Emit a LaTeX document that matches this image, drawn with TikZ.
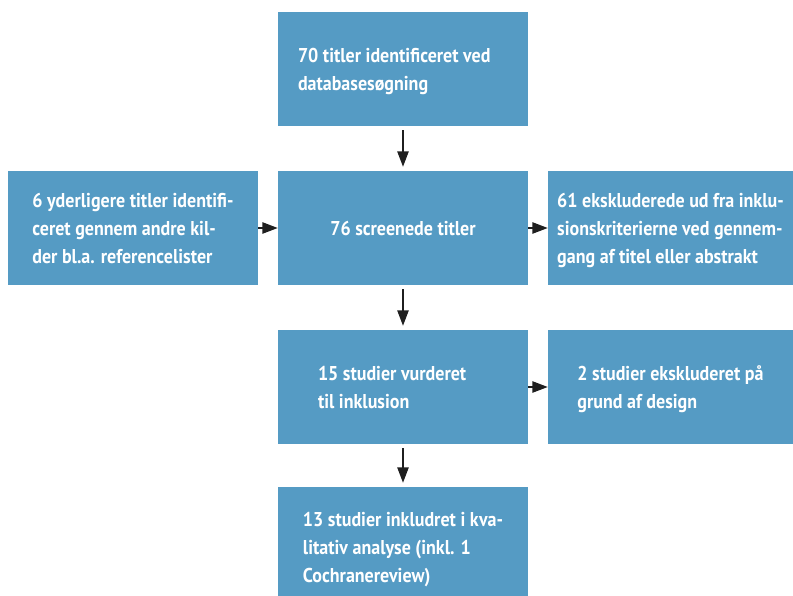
\documentclass[tikz,border=0pt]{standalone}
\usepackage{fontspec}
\setmainfont{PT Sans}[FakeStretch=0.9]
\usetikzlibrary{arrows.meta}
\definecolor{boxblue}{RGB}{85,155,196}
\tikzset{
  box/.style={fill=boxblue, text=white, align=flush left, inner sep=0pt,
    font=\bfseries\fontsize{15}{21}\selectfont, text depth=0pt,
    minimum width=187.5pt, minimum height=85.5pt},
  sidebox/.style={box, minimum width=183.75pt},
  % two lines set in a fixed width, so that they start further left
  narrowbox/.style={box, text width=#1, text depth=21pt},
  flow/.style={-{Triangle[width=8.5pt,length=11.5pt]}, line width=1pt, black!88},
}
\begin{document}
\begin{tikzpicture}[x=0.75pt,y=-0.75pt]
\useasboundingbox (0,0) rectangle (793,596);
% Boxes
\node[narrowbox=157.5pt] (ident) at (403,69) {70 titler identificeret ved\\databasesøgning};
\node[box]     (extra)  at (133,228) {6 yderligere titler identifi-\\ceret gennem andre kil-\\der bl.a. referencelister};
\node[box]     (screen) at (403,228) {76 screenede titler};
\node[sidebox] (excla)  at (670.5,228) {61 ekskluderede ud fra inklu-\\sionskriterierne ved gennem-\\gang af titel eller abstrakt};
\node[narrowbox=127.5pt] (assess) at (403,387) {15 studier vurderet\\til inklusion};
\node[sidebox] (exclb)  at (670.5,387) {2 studier ekskluderet på\\grund af design};
\node[box, minimum height=90pt] (incl) at (403,547) {13 studier inkludret i kva-\\litativ analyse (inkl. 1\\Cochranereview)};
% Arrows
\draw[flow, shorten <=3pt, shorten >=3pt] (ident) -- (screen);
\draw[flow] (extra) -- (screen);
\draw[flow] (screen) -- (excla);
\draw[flow, shorten <=3pt, shorten >=3pt] (screen) -- (assess);
\draw[flow] (assess) -- (exclb);
\draw[flow, shorten <=3pt, shorten >=3pt] (assess) -- (incl);
\end{tikzpicture}
\end{document}
